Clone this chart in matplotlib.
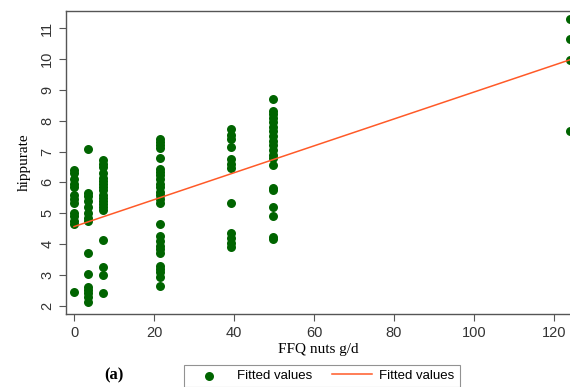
import numpy as np
import matplotlib.pyplot as plt

# FFQ nuts intake groups (g/d) and hippurate values
x_groups = [0, 3.5, 7.2, 21.4, 39.3, 49.7, 124]
y_0 = [6.4, 6.3, 6.1, 5.95, 5.85, 5.6, 5.45, 5.35, 5.0, 4.9, 4.75, 4.65, 2.45]
y_3 = [7.08, 5.67, 5.55, 5.4, 5.2, 5.0, 4.85, 4.75, 3.7, 3.05, 2.63, 2.52, 2.41, 2.3, 2.12]
y_7 = [6.72, 6.6, 6.5, 6.3, 6.15, 6.05, 5.95, 5.85, 5.75, 5.6, 5.5, 5.4, 5.3, 5.2, 5.1,
       4.15, 3.25, 3.0, 2.43]
y_21 = [7.42, 7.3, 7.2, 7.1, 6.78, 6.45, 6.35, 6.25, 6.1, 5.95, 5.85, 5.7, 5.6, 5.45, 5.35,
        4.67, 4.25, 4.1, 3.95, 3.85, 3.7, 3.3, 3.2, 3.1, 2.95, 2.65]
y_39 = [7.72, 7.55, 7.4, 7.15, 6.75, 6.6, 6.47, 5.35, 4.35, 4.2, 4.05, 3.9]
y_50 = [8.7, 8.3, 8.2, 8.1, 7.95, 7.8, 7.65, 7.5, 7.35, 7.2, 7.05, 6.9, 6.8, 6.57,
        5.82, 5.75, 5.22, 4.92, 4.23, 4.18]
y_124 = [11.3, 10.65, 9.97, 7.65]

# fitted line endpoints
fit_x = [0, 124]
fit_y = [4.57, 9.97]

x_ticks = [0, 20, 40, 60, 80, 100, 120]
y_ticks = [2, 3, 4, 5, 6, 7, 8, 9, 10, 11]

groups = [y_0, y_3, y_7, y_21, y_39, y_50, y_124]
xs = np.concatenate([[gx] * len(g) for gx, g in zip(x_groups, groups)])
ys = np.concatenate(groups)

fig = plt.figure(figsize=(5.7, 3.87), dpi=100)
ax = fig.add_axes([0.1158, 0.1886, 0.884, 0.783])

green = '#006400'
orange = '#ff5a28'
ax.scatter(xs, ys, s=42, color=green, zorder=3, linewidths=0, label='Fitted values')
ax.plot(fit_x, fit_y, color=orange, lw=1.1, zorder=4, label='Fitted values')

ax.set_xlim(-2, 124)
ax.set_ylim(1.74, 11.55)
ax.spines['right'].set_visible(False)
for s in ['left', 'bottom', 'top']:
    ax.spines[s].set_color('#555555')
    ax.spines[s].set_linewidth(1.0)

ax.set_xticks(x_ticks)
ax.set_yticks(y_ticks)
ax.tick_params(axis='both', direction='out', length=5, color='#555555',
               labelsize=10.5, labelcolor='#333333')
for lab in ax.get_xticklabels() + ax.get_yticklabels():
    lab.set_family('Liberation Sans')
for lab in ax.get_yticklabels():
    lab.set_rotation(90)
    lab.set_va('center')

ax.set_xlabel('FFQ nuts g/d', family='Liberation Serif', fontsize=11, labelpad=2)
ax.set_ylabel('hippurate', family='Liberation Serif', fontsize=11, labelpad=7)

fig.text(0.2, 0.03, '(a)', family='Liberation Serif', fontweight='bold', fontsize=12,
         ha='center', va='center')

leg = fig.legend(loc='upper center', bbox_to_anchor=(0.565, 0.075), ncol=2,
                 frameon=True, fancybox=False, edgecolor='#777777',
                 prop={'family': 'Liberation Sans', 'size': 9.5},
                 handlelength=3.0, handletextpad=0.6, columnspacing=1.5,
                 borderpad=0.4, scatterpoints=1, markerscale=1.0)
leg.get_frame().set_linewidth(0.8)

fig.savefig('out.png', dpi=100)
